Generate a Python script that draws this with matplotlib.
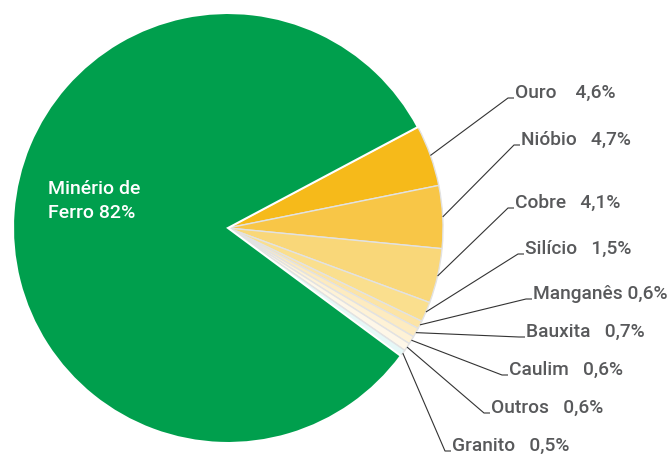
import numpy as np
import matplotlib
matplotlib.use("Agg")
import matplotlib.pyplot as plt

# dados (participação na produção mineral, %)
labels = ["Ouro    4,6%", "Nióbio   4,7%", "Cobre   4,1%", "Silício   1,5%",
          "Manganês 0,6%", "Bauxita   0,7%", "Caulim   0,6%", "Outros   0,6%",
          "Granito   0,5%", "Minério de\nFerro 82%"]
values = [4.6, 4.7, 4.1, 1.5, 0.6, 0.7, 0.6, 0.6, 0.5, 82.0]
colors = ["#F6BA1A", "#F8C647", "#F9D779", "#FADF8E", "#FCE4A6",
          "#FDEBC0", "#FEF2D6", "#FEF7E8", "#E6F8F7", "#009F4D"]

# posições dos rótulos (pixels: x inicial do texto, linha de base)
label_pos = [(515, 98), (521, 145), (515, 208), (525, 254), (533, 299),
             (526, 337), (509, 375), (491, 413), (452, 451)]

W, H = 671, 454
fig = plt.figure(figsize=(W / 100, H / 100), dpi=100)
ax = fig.add_axes([0, 0, 1, 1])

cx, cy, r = 228, H - 228, 215
explode = [0.012] * 9 + [0]
wedges, _ = ax.pie(values, colors=colors, startangle=28, counterclock=False,
                   center=(cx, cy), radius=r, explode=explode,
                   wedgeprops=dict(edgecolor="#E2E2E2", linewidth=1.0))
wedges[-1].set_edgecolor("white")
wedges[-1].set_linewidth(1.5)

font = dict(family=["Roboto", "DejaVu Sans"], weight="medium")

for w, lab, (tx, ty) in zip(wedges[:-1], labels[:-1], label_pos):
    ang = np.deg2rad((w.theta1 + w.theta2) / 2)
    x0 = w.center[0] + r * np.cos(ang)
    y0 = w.center[1] + r * np.sin(ang)
    ax.plot([x0, tx - 7, tx - 1], [y0, H - ty, H - ty],
            color="#333333", lw=0.8, solid_capstyle="butt")
    ax.text(tx, H - ty, lab, color="#58595B", fontsize=13.8, va="baseline",
            ha="left", **font)

ax.text(48, H - 201, labels[-1], color="white", fontsize=14, va="center",
        ha="left", linespacing=1.45, **font)

ax.set_xlim(0, W)
ax.set_ylim(0, H)
ax.set_aspect("equal")
ax.axis("off")

fig.savefig("out.png", dpi=100)
